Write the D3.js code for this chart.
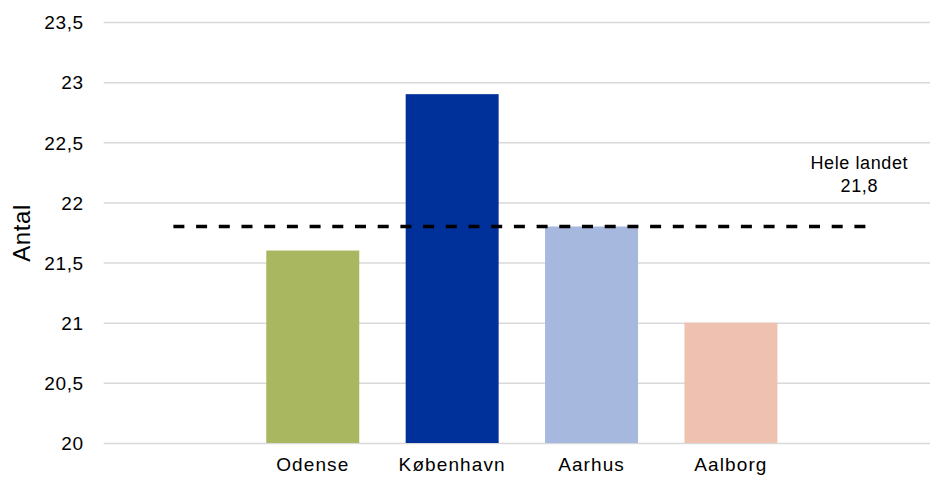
<!DOCTYPE html>
<html>
<head>
<meta charset="utf-8">
<script src="https://cdn.jsdelivr.net/npm/d3@7"></script>
<style>
  html, body { margin: 0; padding: 0; background: #fff; }
  svg { display: block; font-family: "Liberation Sans", Arial, sans-serif; }
</style>
</head>
<body>
<svg id="chart" width="930" height="477"></svg>
<script>
// Data
const categories = ["", "Odense", "København", "Aarhus", "Aalborg", ""];
const values = [null, 21.6, 22.9, 21.8, 21.0, null];
const barColors = [null, "#a9b761", "#00309a", "#a6b8de", "#efc1b0", null];
const nationalValues = [21.8, 21.8, 21.8, 21.8, 21.8, 21.8];
const nationalLabel = "Hele landet";
const nationalValueLabel = "21,8";
const yTicks = [20, 20.5, 21, 21.5, 22, 22.5, 23, 23.5];
const yTitle = "Antal";

(function () {
const svg = d3.select("#chart");
const mLeft = 103.7, mRight = 940, mTop = 22, mBottom = 443;

const idx = d3.range(categories.length);
const x = d3.scaleBand().domain(idx).range([mLeft, mRight])
  .paddingInner(0.333).paddingOuter(0.1665);
const y = d3.scaleLinear().domain([20, 23.5]).range([mBottom, mTop]);

// gridlines
const yAxis = d3.axisLeft(y).tickValues(yTicks)
  .tickSize(-(mRight - mLeft)).tickPadding(20)
  .tickFormat(d => String(d).replace(".", ","));
const gy = svg.append("g").attr("transform", `translate(${mLeft},0)`).call(yAxis);
gy.select(".domain").remove();
gy.selectAll(".tick line").attr("stroke", "#d9d9d9").attr("stroke-width", 1.5);
gy.selectAll(".tick text")
  .attr("fill", "#000").attr("font-size", 19).attr("letter-spacing", 0.6)
  .attr("font-family", "'Liberation Sans', Arial, sans-serif")
  .attr("dy", "0.36em");

// bars
svg.append("g").selectAll("rect")
  .data(idx.filter(i => values[i] !== null))
  .join("rect")
  .attr("x", i => x(i))
  .attr("width", x.bandwidth())
  .attr("y", i => y(values[i]))
  .attr("height", i => y(20) - y(values[i]))
  .attr("fill", i => barColors[i]);

// x axis labels
const xAxis = d3.axisBottom(x).tickSize(0).tickPadding(15)
  .tickFormat(i => categories[i]);
const gx = svg.append("g").attr("transform", `translate(0,${mBottom})`).call(xAxis);
gx.select(".domain").remove();
gx.selectAll(".tick text")
  .attr("fill", "#000").attr("font-size", 19).attr("letter-spacing", 1.1)
  .attr("font-family", "'Liberation Sans', Arial, sans-serif");

// national average dashed line
const line = d3.line()
  .x((d, i) => x(i) + x.bandwidth() / 2)
  .y(d => y(d));
svg.append("path")
  .datum(nationalValues)
  .attr("d", line)
  .attr("fill", "none")
  .attr("stroke", "#000")
  .attr("stroke-width", 3.5)
  .attr("stroke-dasharray", "11,11.7");

// label for national line
const lastI = nationalValues.length - 1;
const lx = x(lastI) + x.bandwidth() / 2 - 11;
const ly = y(nationalValues[lastI]);
const lbl = svg.append("text")
  .attr("text-anchor", "middle")
  .attr("font-size", 18).attr("letter-spacing", 0.6)
  .attr("fill", "#000");
lbl.append("tspan").attr("x", lx).attr("y", ly - 57).text(nationalLabel);
lbl.append("tspan").attr("x", lx).attr("y", ly - 34).text(nationalValueLabel);

// y title
svg.append("text")
  .attr("transform", `translate(30,233) rotate(-90)`)
  .attr("text-anchor", "middle")
  .attr("font-size", 24).attr("letter-spacing", 0.6)
  .attr("fill", "#000")
  .text(yTitle);
})();
</script>
</body>
</html>
